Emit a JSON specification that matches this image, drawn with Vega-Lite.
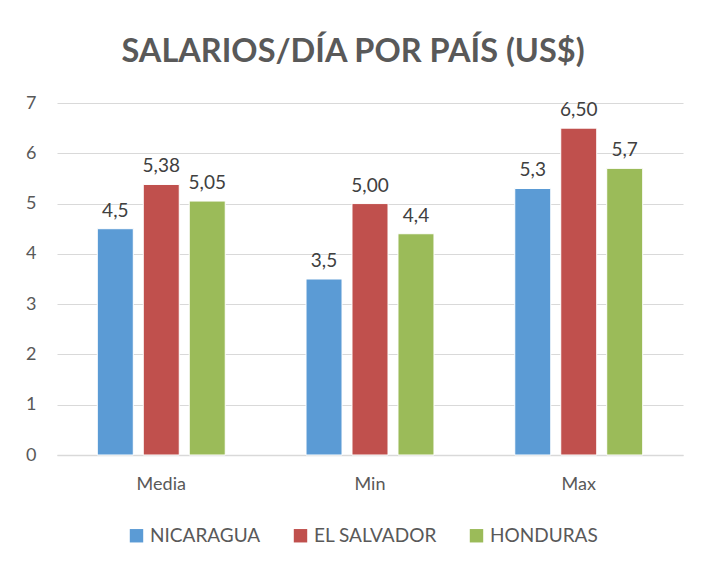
{
  "$schema": "https://vega.github.io/schema/vega-lite/v6.json",
  "autosize": "none",
  "width": 626,
  "height": 352,
  "padding": {"left": 57, "top": 103, "right": 24, "bottom": 117},
  "background": "white",
  "title": {
    "text": "SALARIOS/DÍA POR PAÍS (US$)",
    "font": "Lato",
    "fontSize": 32.5,
    "fontWeight": "bold",
    "color": "#595959",
    "anchor": "middle",
    "dx": -17,
    "offset": 26
  },
  "config": {
    "view": {"stroke": null},
    "font": "Lato"
  },
  "data": {
    "values": [
      {"stat": "Media", "pais": "NICARAGUA", "valor": 4.5, "etiqueta": "4,5"},
      {"stat": "Media", "pais": "EL SALVADOR", "valor": 5.38, "etiqueta": "5,38"},
      {"stat": "Media", "pais": "HONDURAS", "valor": 5.05, "etiqueta": "5,05"},
      {"stat": "Min", "pais": "NICARAGUA", "valor": 3.5, "etiqueta": "3,5"},
      {"stat": "Min", "pais": "EL SALVADOR", "valor": 5.0, "etiqueta": "5,00"},
      {"stat": "Min", "pais": "HONDURAS", "valor": 4.4, "etiqueta": "4,4"},
      {"stat": "Max", "pais": "NICARAGUA", "valor": 5.3, "etiqueta": "5,3"},
      {"stat": "Max", "pais": "EL SALVADOR", "valor": 6.5, "etiqueta": "6,50"},
      {"stat": "Max", "pais": "HONDURAS", "valor": 5.7, "etiqueta": "5,7"}
    ]
  },
  "encoding": {
    "x": {
      "field": "stat",
      "type": "nominal",
      "sort": ["Media", "Min", "Max"],
      "scale": {"paddingInner": 0.387, "paddingOuter": 0.193},
      "axis": {
        "title": null,
        "labelAngle": 0,
        "labelFontSize": 18,
        "labelColor": "#595959",
        "labelPadding": 20,
        "ticks": false,
        "domainColor": "#d9d9d9",
        "domainWidth": 1.5
      }
    },
    "xOffset": {
      "field": "pais",
      "type": "nominal",
      "sort": ["NICARAGUA", "EL SALVADOR", "HONDURAS"],
      "scale": {"paddingInner": 0.217, "paddingOuter": 0}
    },
    "y": {
      "field": "valor",
      "type": "quantitative",
      "scale": {"domain": [0, 7]},
      "axis": {
        "title": null,
        "values": [0, 1, 2, 3, 4, 5, 6, 7],
        "labelOverlap": false,
        "domain": false,
        "ticks": false,
        "labelFontSize": 18,
        "labelColor": "#595959",
        "labelPadding": 21,
        "gridColor": "#d9d9d9",
        "gridWidth": 1.2
      }
    }
  },
  "layer": [
    {
      "mark": {"type": "bar", "stroke": "white", "strokeWidth": 1},
      "encoding": {
        "color": {
          "field": "pais",
          "type": "nominal",
          "sort": ["NICARAGUA", "EL SALVADOR", "HONDURAS"],
          "scale": {
            "domain": ["NICARAGUA", "EL SALVADOR", "HONDURAS"],
            "range": ["#5b9bd5", "#c0504d", "#9bbb59"]
          },
          "legend": {
            "title": null,
            "orient": "none",
            "legendX": 70,
            "legendY": 423,
            "direction": "horizontal",
            "symbolType": "square",
            "symbolSize": 180,
            "symbolStrokeWidth": 0,
            "labelFontSize": 19,
            "labelColor": "#595959",
            "labelOffset": 4,
            "columnPadding": 30
          }
        }
      }
    },
    {
      "mark": {"type": "text", "baseline": "bottom", "dy": -8, "fontSize": 19, "color": "#404040"},
      "encoding": {
        "text": {"field": "etiqueta", "type": "nominal"}
      }
    }
  ]
}
